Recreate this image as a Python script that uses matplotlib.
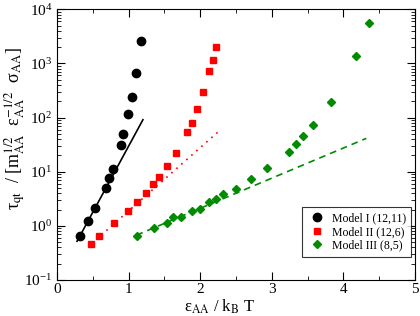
import numpy as np
import matplotlib
matplotlib.use("Agg")
import matplotlib.pyplot as plt

plt.rcParams['font.family'] = ['Liberation Serif', 'DejaVu Serif']
plt.rcParams['mathtext.fontset'] = 'stix'

# Model I (12,11)
x1 = [0.321, 0.437, 0.531, 0.680, 0.730, 0.778, 0.890, 0.926, 0.996, 1.047, 1.108, 1.173]
y1 = [0.648, 1.24, 2.10, 5.05, 7.7, 11.2, 31, 48.8, 114, 235, 668, 2600]
# Model II (12,6)
x2 = [0.475, 0.591, 0.800, 0.996, 1.113, 1.243, 1.337, 1.425, 1.532, 1.662,
      1.820, 1.885, 1.959, 2.039, 2.127, 2.175, 2.221]
y2 = [0.468, 0.648, 1.11, 1.90, 2.72, 4.08, 5.84, 8.05, 12.7, 22.3,
      53.8, 81, 147, 294, 710, 1133, 1990]
# Model III (8,5)
x3 = [1.121, 1.359, 1.532, 1.624, 1.728, 1.890, 1.997, 2.127, 2.221, 2.323,
      2.500, 2.705, 2.937, 3.236, 3.338, 3.440, 3.571, 3.827, 4.176, 4.353]
y3 = [0.656, 0.91, 1.15, 1.44, 1.47, 1.85, 2.02, 2.72, 3.12, 3.81,
      4.83, 7.2, 11.5, 23, 31.9, 44.8, 71.4, 198, 1358, 5690]

# Arrhenius fits: log10(tau) = a + b * x over [xmin, xmax]
fit1 = dict(a=-0.968, b=2.44, xr=(0.28, 1.20))
fit2 = dict(a=-0.892, b=1.168, xr=(0.48, 2.28))
fit3 = dict(a=-0.790, b=0.557, xr=(1.11, 4.32))

labels = ['Model I (12,11)', 'Model II (12,6)', 'Model III (8,5)']
green = '#008b00'

fig = plt.figure(figsize=(4.2, 3.16), dpi=100)
ax = fig.add_axes([0.1357, 0.1139, 0.8524, 0.8567])

ax.plot(x1, y1, 'o', color='black', ms=6, label=labels[0], zorder=3)
ax.plot(x2, y2, 's', color='red', ms=5, label=labels[1], zorder=3)
ax.plot(x3, y3, 'D', color=green, ms=4.5, label=labels[2], zorder=3)

for f, c, ls in [(fit1, 'black', '-'), (fit2, 'red', (0, (1, 3))), (fit3, green, (0, (4, 3)))]:
    xx = np.linspace(f['xr'][0], f['xr'][1], 50)
    ax.plot(xx, 10 ** (f['a'] + f['b'] * xx), color=c, ls=ls, lw=1.2)

ax.set_yscale('log')
ax.set_xlim(0, 5)
ax.set_ylim(0.1, 1e4)
ax.set_xticks([0, 1, 2, 3, 4, 5])
ax.set_xticks(np.arange(0.5, 5, 1), minor=True)
ax.tick_params(which='both', direction='in', top=True, right=True, labelsize=11)
ax.tick_params(which='major', length=6)
ax.tick_params(which='minor', length=3)
ax.tick_params(axis='x', which='major', pad=2)

ax.set_xlabel(r'ε$_{\mathrm{AA}}$ / k$_{\mathrm{B}}$ T', fontsize=12)
ax.xaxis.set_label_coords(0.455, -0.064)
ax.set_ylabel(r'τ$_{\mathrm{qt}}$  / [m$_{\mathrm{AA}}^{\mathrm{1/2}}$  ε$_{\mathrm{AA}}^{\mathrm{-1/2}}$  σ$_{\mathrm{AA}}$]',
              fontsize=13)
ax.yaxis.set_label_coords(-0.08, 0.56)

leg = ax.legend(loc='lower right', fontsize=8.5, handletextpad=0.5, borderpad=0.45,
                labelspacing=0.12, fancybox=False, edgecolor='black', handlelength=1.6,
                borderaxespad=0, bbox_to_anchor=(0.99, 0.086))
leg.get_frame().set_linewidth(0.8)

fig.savefig('out.png', dpi=100)
